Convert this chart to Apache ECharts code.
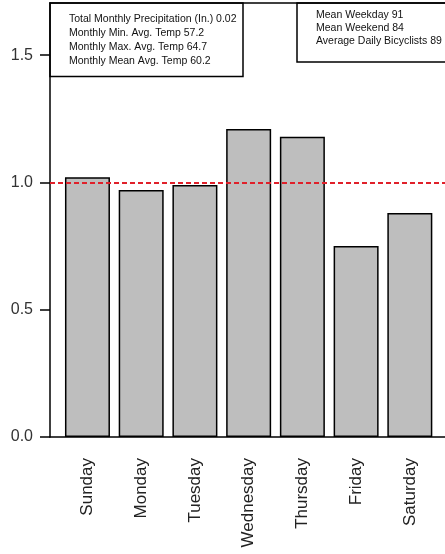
<!DOCTYPE html>
<html>
<head>
<meta charset="utf-8">
<script src="https://cdn.jsdelivr.net/npm/echarts@6/dist/echarts.min.js"></script>
<style>
  html, body { margin: 0; padding: 0; background: #fff; }
  #chart { width: 445px; height: 554px; }
</style>
</head>
<body>
<div id="chart"></div>
<script>
// Day-of-week ridership relative to the monthly average
const days = ['Sunday', 'Monday', 'Tuesday', 'Wednesday', 'Thursday', 'Friday', 'Saturday'];
const ratios = [1.02, 0.97, 0.99, 1.21, 1.18, 0.75, 0.88];
const referenceLevel = 1.0;
const yTicks = [0, 0.5, 1.0, 1.5];
const yMin = 0;
const yMax = 1.705;

// Summary notes shown in the two boxes along the top
const weatherNotes = [
  'Total Monthly Precipitation (In.) 0.02',
  'Monthly Min. Avg. Temp 57.2',
  'Monthly Max. Avg. Temp 64.7',
  'Monthly Mean Avg. Temp 60.2'
];
const riderNotes = [
  'Mean Weekday 91',
  'Mean Weekend 84',
  'Average Daily Bicyclists 89'
];

const FONT = 'Liberation Sans, Arial, sans-serif';

function noteBox(x, y, w, h, lines, textX, firstY, step) {
  const children = [{
    type: 'rect',
    shape: { x: x, y: y, width: w, height: h },
    style: { fill: '#fff', stroke: '#000', lineWidth: 1.5 }
  }];
  lines.forEach(function (t, i) {
    children.push({
      type: 'text',
      x: textX,
      y: firstY + i * step,
      style: {
        text: t, fill: '#111', font: '10.5px ' + FONT,
        textAlign: 'left', textVerticalAlign: 'middle'
      }
    });
  });
  return { type: 'group', z: 20, children: children };
}

const frameLine = { show: true, lineStyle: { color: '#000', width: 1.5 } };

const chart = echarts.init(document.getElementById('chart'), null, { renderer: 'canvas' });

chart.setOption({
  animation: false,
  backgroundColor: '#fff',
  grid: [
    // frame with the value axis
    { left: 50, top: 3, bottom: 117, right: 0 },
    // bar placement
    { left: 60.6, right: 8.3, top: 3, bottom: 117 }
  ],
  xAxis: [
    { gridIndex: 0, type: 'value', min: 0, max: 1, position: 'bottom',
      axisLine: frameLine, axisTick: { show: false }, axisLabel: { show: false }, splitLine: { show: false } },
    { gridIndex: 0, type: 'value', min: 0, max: 1, position: 'top',
      axisLine: frameLine, axisTick: { show: false }, axisLabel: { show: false }, splitLine: { show: false } },
    {
      gridIndex: 1, type: 'category', data: days,
      axisLine: { show: false }, axisTick: { show: false },
      axisLabel: { rotate: 90, margin: 21, fontSize: 17, color: '#222', fontFamily: FONT }
    }
  ],
  yAxis: [
    {
      gridIndex: 0, type: 'value', min: yMin, max: yMax,
      axisLine: frameLine,
      axisTick: { show: true, length: 10, customValues: yTicks, lineStyle: { color: '#000', width: 1.5 } },
      axisLabel: { margin: 17, fontSize: 16, color: '#333', fontFamily: FONT, customValues: yTicks,
        formatter: function (v) { return v.toFixed(1); } },
      splitLine: { show: false }
    },
    { gridIndex: 1, type: 'value', min: yMin, max: yMax, show: false, splitLine: { show: false } }
  ],
  series: [
    {
      type: 'bar', xAxisIndex: 2, yAxisIndex: 1, data: ratios, barWidth: 45,
      itemStyle: { color: '#bebebe', borderColor: '#000', borderWidth: 1.5 },
      z: 2
    },
    {
      type: 'line', xAxisIndex: 0, yAxisIndex: 0, data: [], z: 10,
      markLine: {
        silent: true, symbol: 'none', label: { show: false },
        lineStyle: { color: '#e0202a', type: [5, 3], width: 2 },
        data: [{ yAxis: referenceLevel }]
      }
    }
  ],
  graphic: [
    noteBox(50, 3, 193, 73.5, weatherNotes, 69, 19.3, 14.1),
    noteBox(297, 3, 200, 59, riderNotes, 316, 15.2, 12.8)
  ]
});
</script>
</body>
</html>
